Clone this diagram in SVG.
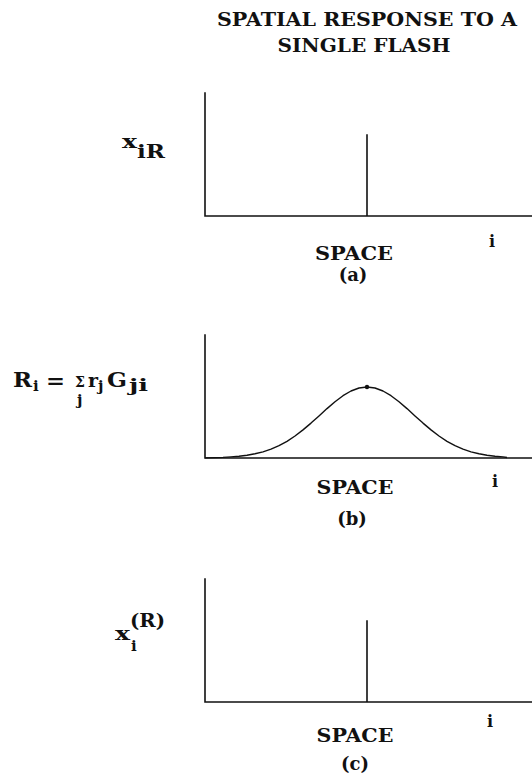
<svg xmlns="http://www.w3.org/2000/svg" width="532" height="775" viewBox="0 0 532 775">
<style>
.t{font-family:"DejaVu Serif","Liberation Serif",serif;font-weight:bold;fill:#111}
.ln{stroke:#111;stroke-width:1.6;fill:none;stroke-linecap:square}
.cv{stroke:#111;stroke-width:1.4;fill:none;stroke-linejoin:round}
</style>
<rect width="532" height="775" fill="#fff"/>
<g id="title">
<text class="t" x="367" y="26" font-size="18" text-anchor="middle" textLength="300" lengthAdjust="spacingAndGlyphs">SPATIAL RESPONSE TO A</text>
<text class="t" x="364" y="52" font-size="18" text-anchor="middle" textLength="173" lengthAdjust="spacingAndGlyphs">SINGLE FLASH</text>
</g>
<g id="panel-a">
<text class="t" x="122" y="148" font-size="19" textLength="15" lengthAdjust="spacingAndGlyphs">x</text>
<text class="t" x="137" y="158" font-size="19" textLength="28" lengthAdjust="spacingAndGlyphs">iR</text>
<text class="t" x="354" y="260" font-size="18" text-anchor="middle" textLength="78" lengthAdjust="spacingAndGlyphs">SPACE</text>
<text class="t" x="353" y="281" font-size="18" text-anchor="middle">(a)</text>
<text class="t" x="492" y="247" font-size="16" text-anchor="middle">i</text>
</g>
<g id="panel-b">
<text class="t" x="13" y="387" font-size="20" textLength="19" lengthAdjust="spacingAndGlyphs">R</text>
<text class="t" x="33" y="391" font-size="15">i</text>
<text class="t" x="46" y="388" font-size="20" font-weight="normal" textLength="19" lengthAdjust="spacingAndGlyphs">=</text>
<text class="t" x="75" y="387" font-size="14">Σ</text>
<text class="t" x="77" y="405" font-size="15">j</text>
<text class="t" x="88" y="387" font-size="19">r</text>
<text class="t" x="98" y="391" font-size="15">j</text>
<text class="t" x="107" y="387" font-size="20" textLength="20" lengthAdjust="spacingAndGlyphs">G</text>
<text class="t" x="129" y="391" font-size="16" textLength="19" lengthAdjust="spacingAndGlyphs">ji</text>
<text class="t" x="355" y="494" font-size="18" text-anchor="middle" textLength="77" lengthAdjust="spacingAndGlyphs">SPACE</text>
<text class="t" x="352" y="525" font-size="18" text-anchor="middle">(b)</text>
<text class="t" x="495" y="487" font-size="16" text-anchor="middle">i</text>
</g>
<g id="panel-c">
<text class="t" x="115" y="640" font-size="19" textLength="15" lengthAdjust="spacingAndGlyphs">x</text>
<text class="t" x="131" y="651" font-size="15">i</text>
<text class="t" x="130" y="627" font-size="19" textLength="35" lengthAdjust="spacingAndGlyphs">(R)</text>
<text class="t" x="355" y="742" font-size="18" text-anchor="middle" textLength="77" lengthAdjust="spacingAndGlyphs">SPACE</text>
<text class="t" x="355" y="770" font-size="18" text-anchor="middle">(c)</text>
<text class="t" x="490" y="727" font-size="16" text-anchor="middle">i</text>
</g>
<g id="connectors">
<path class="ln" d="M205 93V216H532M367 135V216"/>
<path class="ln" d="M205 335V458H532"/>
<polyline class="cv" points="205,457.9 215,457.6 223,457.35 231,456.9 239,456.3 247,455.3 255,453.8 263,451.9 271,449.2 279,445.7 287,441.3 295,436 303,429.9 311,423.1 319,415.9 327,408.6 335,401.7 343,395.7 351,391 359,388 367,387 375,388 383,391 391,395.7 399,401.7 407,408.6 415,415.9 423,423.1 431,429.9 439,436 447,441.3 455,445.7 463,449.2 471,451.9 479,453.8 487,455.3 495,456.3 503,456.9 507,457.5"/>
<circle cx="367" cy="387" r="2.2" fill="#111"/>
<path class="ln" d="M205 579V702H532M367 621V702"/>
</g>
</svg>
